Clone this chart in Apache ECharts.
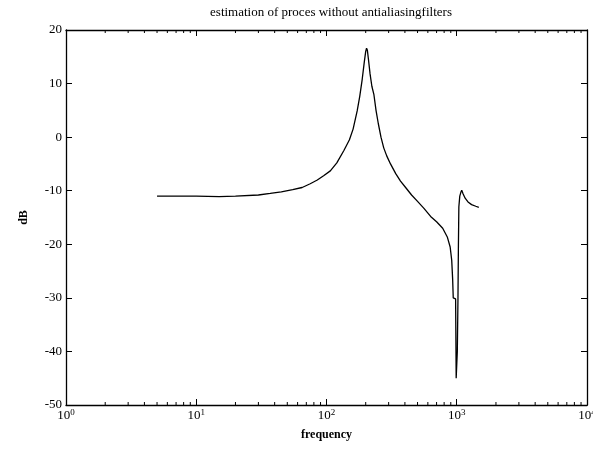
<!DOCTYPE html>
<html>
<head>
<meta charset="utf-8">
<script src="https://cdn.jsdelivr.net/npm/echarts@6/dist/echarts.min.js"></script>
<style>
  html, body { margin: 0; padding: 0; background: #fff; }
  #main { width: 593px; height: 456px; }
</style>
</head>
<body>
<div id="main"></div>
<script>
var freq = [5, 7, 10, 15, 20, 30, 37, 45, 55, 65, 75, 85, 95, 107, 120, 136, 150, 160, 172, 180, 188, 195, 200, 203, 206, 210, 216, 223, 231, 240, 250, 262, 275, 290, 310, 340, 370, 405, 450, 500, 560, 630, 700, 780, 848, 890, 915, 930, 940, 980, 990, 1010, 1022, 1030, 1038, 1055, 1075, 1092, 1120, 1160, 1220, 1300, 1400, 1477];
var dB = [-11.0, -11.0, -11.0, -11.1, -11.0, -10.8, -10.5, -10.2, -9.8, -9.4, -8.7, -8.0, -7.2, -6.3, -4.8, -2.5, -0.5, 1.5, 4.9, 7.6, 10.8, 14.0, 16.0, 16.6, 16.2, 14.5, 11.8, 9.5, 8.0, 5.0, 2.5, 0.0, -2.0, -3.5, -5.0, -6.8, -8.2, -9.4, -10.8, -12.0, -13.3, -14.8, -15.8, -17.0, -18.7, -20.5, -23.0, -26.5, -30.0, -30.2, -45.0, -40.0, -30.0, -20.0, -13.0, -11.0, -10.3, -9.9, -10.6, -11.4, -12.1, -12.6, -12.9, -13.1];

var yTicks = [-50, -40, -30, -20, -10, 0, 10, 20];
var minorX = [2, 3, 4, 5, 6, 7, 8, 9, 20, 30, 40, 50, 60, 70, 80, 90, 200, 300, 400, 500, 600, 700, 800, 900, 2000, 3000, 4000, 5000, 6000, 7000, 8000, 9000];

var serif = '"Liberation Serif", "DejaVu Serif", serif';

var curve = freq.map(function (f, i) { return [f, dB[i]]; });

function powLabel(v) {
  var e = Math.round(Math.log(v) / Math.LN10);
  return '{b|10}{s|' + e + '}';
}

var labelRich = {
  b: { fontFamily: serif, fontSize: 13, color: '#000' },
  s: { fontFamily: serif, fontSize: 9, color: '#000', padding: [0, 0, 7, 0] }
};

var option = {
  animation: false,
  backgroundColor: '#fff',
  title: {
    text: 'estimation of proces without antialiasingfilters',
    left: 326,
    top: 1,
    textAlign: 'center',
    textStyle: { fontFamily: serif, fontSize: 13, fontWeight: 'normal', color: '#000' }
  },
  grid: { left: 66, right: 6, top: 30, bottom: 51, outerBoundsMode: 'none', containLabel: false },
  xAxis: [{
    type: 'log',
    min: 1,
    max: 10000,
    logBase: 10,
    name: 'frequency',
    nameLocation: 'middle',
    nameGap: 24,
    nameTextStyle: { fontFamily: serif, fontSize: 12, fontWeight: 'bold', color: '#000' },
    axisLine: { onZero: false, lineStyle: { color: '#000', width: 1.3 } },
    axisTick: { inside: true, length: 6, lineStyle: { color: '#000' } },
    axisLabel: { formatter: powLabel, rich: labelRich, margin: 3 },
    splitLine: { show: false }
  }, {
    type: 'log',
    min: 1,
    max: 10000,
    position: 'top',
    axisLine: { onZero: false, lineStyle: { color: '#000', width: 1.3 } },
    axisTick: { inside: true, length: 6, lineStyle: { color: '#000' } },
    axisLabel: { show: false },
    splitLine: { show: false }
  }],
  yAxis: [{
    type: 'value',
    min: -50,
    max: 20,
    interval: 10,
    name: 'dB',
    nameLocation: 'middle',
    nameGap: 36,
    nameRotate: 90,
    nameTextStyle: { fontFamily: serif, fontSize: 12, fontWeight: 'bold', color: '#000' },
    axisLine: { show: true, onZero: false, lineStyle: { color: '#000', width: 1.3 } },
    axisTick: { show: true, inside: true, length: 6, lineStyle: { color: '#000' } },
    axisLabel: { fontFamily: serif, fontSize: 13, color: '#000', margin: 4 },
    splitLine: { show: false }
  }, {
    type: 'value',
    min: -50,
    max: 20,
    interval: 10,
    position: 'right',
    axisLine: { show: true, onZero: false, lineStyle: { color: '#000', width: 1.3 } },
    axisTick: { show: true, inside: true, length: 6, lineStyle: { color: '#000' } },
    axisLabel: { show: false },
    splitLine: { show: false }
  }],
  series: [{
    type: 'line',
    data: curve,
    showSymbol: false,
    symbol: 'none',
    smooth: false,
    lineStyle: { color: '#000', width: 1.3 },
    silent: true
  }, {
    // minor log ticks on bottom and top edges
    type: 'custom',
    silent: true,
    data: minorX,
    renderItem: function (params, api) {
      var v = api.value(0);
      var b = api.coord([v, -50]);
      var t = api.coord([v, 20]);
      return {
        type: 'group',
        children: [{
          type: 'line',
          shape: { x1: b[0], y1: b[1], x2: b[0], y2: b[1] - 3 },
          style: { stroke: '#000', lineWidth: 1 }
        }, {
          type: 'line',
          shape: { x1: t[0], y1: t[1], x2: t[0], y2: t[1] + 3 },
          style: { stroke: '#000', lineWidth: 1 }
        }]
      };
    },
    encode: { x: 0 }
  }]
};

var myChart = echarts.init(document.getElementById('main'));
myChart.setOption(option);
</script>
</body>
</html>
